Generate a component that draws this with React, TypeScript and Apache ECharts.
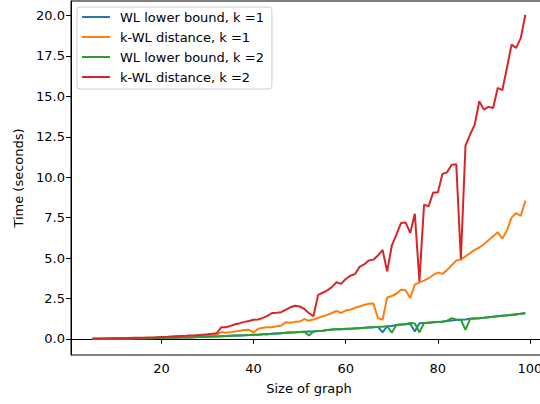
import React, { useEffect, useRef } from "react";
import * as echarts from "echarts";

const sizes = [5,6,7,8,9,10,11,12,13,14,15,16,17,18,19,20,21,22,23,24,25,26,27,28,29,30,31,32,33,34,35,36,37,38,39,40,41,42,43,44,45,46,47,48,49,50,51,52,53,54,55,56,57,58,59,60,61,62,63,64,65,66,67,68,69,70,71,72,73,74,75,76,77,78,79,80,81,82,83,84,85,86,87,88,89,90,91,92,93,94,95,96,97,98,99];

const wlK1 = [0.00,0.00,0.01,0.01,0.01,0.01,0.02,0.02,0.02,0.03,0.03,0.03,0.04,0.04,0.05,0.05,0.06,0.06,0.07,0.08,0.08,0.09,0.10,0.11,0.12,0.13,0.14,0.15,0.16,0.17,0.19,0.20,0.21,0.22,0.24,0.25,0.26,0.28,0.29,0.31,0.33,0.35,0.37,0.39,0.40,0.42,0.44,0.45,0.46,0.48,0.50,0.54,0.57,0.59,0.60,0.61,0.63,0.64,0.66,0.68,0.70,0.72,0.74,0.40,0.78,0.80,0.85,0.88,0.90,0.93,0.45,0.96,0.98,1.00,1.02,1.04,1.06,1.10,1.14,1.16,1.18,1.20,1.24,1.26,1.28,1.30,1.34,1.37,1.40,1.43,1.45,1.48,1.51,1.55,1.58];

const kwlK1 = [0.00,0.00,0.01,0.01,0.01,0.02,0.02,0.02,0.03,0.03,0.04,0.04,0.05,0.05,0.06,0.07,0.07,0.08,0.09,0.10,0.11,0.12,0.13,0.15,0.17,0.18,0.20,0.28,0.42,0.38,0.40,0.45,0.50,0.55,0.56,0.40,0.62,0.68,0.72,0.72,0.78,0.82,1.02,1.00,1.05,1.07,1.22,1.12,1.20,1.30,1.40,1.48,1.60,1.72,1.60,1.75,1.80,1.92,2.00,2.10,2.17,2.18,1.28,1.18,2.56,2.65,2.79,3.03,3.00,2.52,3.35,3.50,3.60,3.75,3.95,4.10,4.02,4.25,4.55,4.85,4.90,5.10,5.30,5.50,5.65,5.85,6.10,6.35,6.60,6.20,6.70,7.50,7.78,7.60,8.55];

const wlK2 = [0.00,0.00,0.01,0.01,0.01,0.01,0.02,0.02,0.02,0.03,0.03,0.03,0.04,0.04,0.05,0.05,0.06,0.06,0.07,0.08,0.08,0.09,0.10,0.11,0.12,0.13,0.14,0.15,0.16,0.17,0.19,0.20,0.21,0.22,0.24,0.25,0.26,0.28,0.29,0.31,0.33,0.35,0.37,0.39,0.40,0.42,0.44,0.20,0.46,0.48,0.50,0.55,0.57,0.59,0.60,0.62,0.63,0.65,0.66,0.68,0.70,0.72,0.74,0.75,0.78,0.38,0.85,0.88,0.90,0.98,0.95,0.40,0.98,1.00,1.02,1.04,1.07,1.12,1.28,1.20,1.18,0.55,1.24,1.26,1.28,1.31,1.34,1.37,1.40,1.43,1.46,1.49,1.52,1.55,1.60];

const kwlK2 = [0.01,0.01,0.02,0.02,0.03,0.03,0.04,0.04,0.05,0.06,0.06,0.07,0.08,0.09,0.10,0.11,0.12,0.14,0.16,0.17,0.18,0.20,0.21,0.23,0.26,0.28,0.31,0.35,0.72,0.72,0.80,0.90,0.97,1.05,1.10,1.18,1.20,1.30,1.42,1.60,1.62,1.65,1.80,1.95,2.05,2.00,1.85,1.60,1.40,2.72,2.85,3.00,3.20,3.50,3.40,3.70,3.90,4.00,4.45,4.60,4.85,4.90,5.15,5.50,4.17,5.76,6.44,7.16,7.20,6.55,7.74,3.55,8.30,8.20,9.06,9.06,10.20,10.30,10.77,10.80,4.93,11.95,12.63,13.25,14.70,14.18,14.35,14.28,15.52,15.38,16.76,18.20,18.00,18.60,20.05];

const xTicks = [20, 40, 60, 80, 100];
const yTicks = [0, 2.5, 5, 7.5, 10, 12.5, 15, 17.5, 20];

const seriesNames = ["WL lower bound, k =1", "k-WL distance, k =1", "WL lower bound, k =2", "k-WL distance, k =2"];
const seriesValues = [wlK1, kwlK1, wlK2, kwlK2];
const colors = ["#1f77b4", "#ff7f0e", "#2ca02c", "#d62728"];

const FONT = "DejaVu Sans";

export default function App() {
  const ref = useRef<HTMLDivElement>(null);
  useEffect(() => {
    if (!ref.current) return;
    const chart = echarts.init(ref.current, null, { renderer: "svg" });
    chart.setOption({
      animation: false,
      backgroundColor: "#fff",
      grid: {
        left: 71, top: 1, width: 476, height: 354,
        outerBoundsMode: "none",
        show: true, borderColor: "#000", borderWidth: 1, backgroundColor: "transparent",
      },
      legend: {
        orient: "vertical",
        left: 77,
        top: 7,
        padding: [3, 8, 5, 5],
        itemGap: 6,
        itemWidth: 28,
        itemHeight: 2,
        icon: "rect",
        borderColor: "#ccc",
        borderWidth: 1,
        borderRadius: 3,
        backgroundColor: "rgba(255,255,255,0.8)",
        textStyle: { fontFamily: FONT, fontSize: 13, color: "#000", lineHeight: 14, padding: [0, 0, 0, 5] },
        data: seriesNames,
      },
      xAxis: {
        type: "value",
        min: 0.35,
        max: 103.7,
        name: "Size of graph",
        nameLocation: "middle",
        nameGap: 27,
        nameTextStyle: { fontFamily: FONT, fontSize: 13, color: "#000" },
        axisLine: { show: true, lineStyle: { color: "#000", width: 1 } },
        axisTick: { show: true, length: 5, lineStyle: { color: "#000" }, customValues: xTicks },
        axisLabel: { fontFamily: FONT, fontSize: 13, color: "#000", margin: 7, customValues: xTicks },
        splitLine: { show: false },
      },
      yAxis: {
        type: "value",
        min: -1,
        max: 20.9,
        name: "Time (seconds)",
        nameLocation: "middle",
        nameGap: 46,
        nameTextStyle: { fontFamily: FONT, fontSize: 13, color: "#000" },
        axisLine: { show: true, lineStyle: { color: "#000", width: 1 } },
        axisTick: { show: true, length: 5, lineStyle: { color: "#000" }, customValues: yTicks },
        axisLabel: { fontFamily: FONT, fontSize: 13, color: "#000", margin: 6, customValues: yTicks, formatter: (v: number) => v.toFixed(1) },
        splitLine: { show: false },
      },
      series: seriesValues.map((vals, k) => ({
        name: seriesNames[k],
        type: "line",
        data: sizes.map((s, i) => [s, vals[i]]),
        symbol: "none",
        lineStyle: { color: colors[k], width: 2 },
        itemStyle: { color: colors[k] },
        clip: true,
      })),
    });
    return () => chart.dispose();
  }, []);
  return <div ref={ref} style={{ width: 540, height: 404, position: "absolute", left: 0, top: 0 }} />;
}
